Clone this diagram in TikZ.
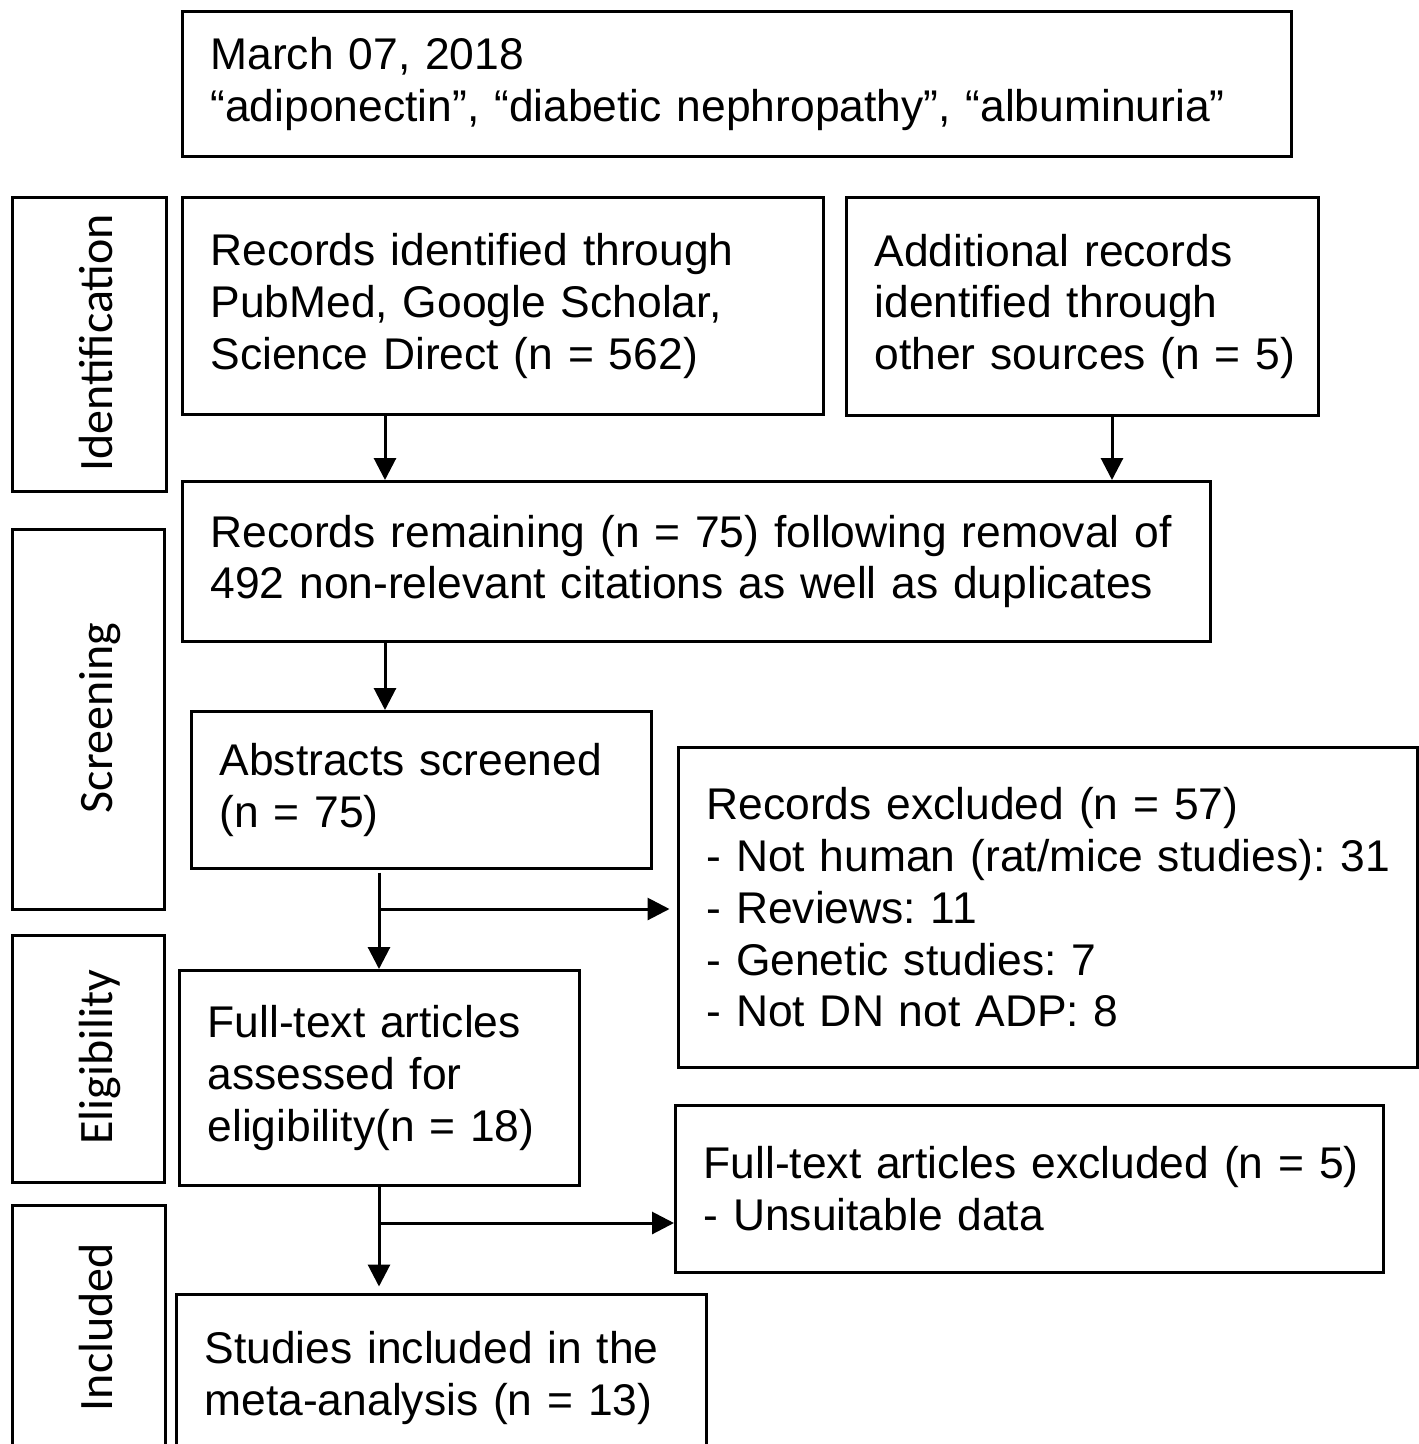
\documentclass[tikz,border=0pt]{standalone}
\usepackage{fontspec}
\setmainfont[WordSpace=0.85]{Liberation Sans}
\newfontfamily\sidefont{Carlito}
\usetikzlibrary{arrows.meta}
\frenchspacing
\begin{document}
\begin{tikzpicture}[x=1pt,y=-1pt,
  box/.style={draw, line width=3pt, anchor=north west, inner xsep=28pt, inner ysep=0pt,
    align=left, font=\frenchspacing\fontsize{44.4}{51.8}\selectfont},
  sidebox/.style={draw, line width=3pt, anchor=north west, inner sep=0pt},
  sidelabel/.style={rotate=90, anchor=base, inner sep=0pt, font=\sidefont\fontsize{48}{56}\selectfont},
  arr/.style={line width=3pt, -{Triangle[length=22pt,width=22pt]}}]
\useasboundingbox (0,0) rectangle (1419,1444);
\clip (0,0) rectangle (1419,1444);

% main boxes
\node[box, minimum width=1109pt, minimum height=145pt, text width=1053pt] (top) at (181,10)
  {\mbox{March 07, 2018}\\\mbox{“adiponectin”, “diabetic nephropathy”, “albuminuria”}};
\node[box, minimum width=641pt, minimum height=217pt, text width=585pt] (rid) at (181,196)
  {\mbox{Records identified through}\\\mbox{PubMed, Google Scholar,}\\\mbox{Science Direct (n = 562)}};
\node[box, minimum width=472pt, minimum height=218pt, text width=416pt] (add) at (845,196)
  {\mbox{Additional records}\\\mbox{identified through}\\\mbox{other sources (n = 5)}};
\node[box, minimum width=1028pt, minimum height=160pt, text width=972pt] (rem) at (181,480)
  {\mbox{Records remaining (n = 75) following removal of}\\\mbox{492 non-relevant citations as well as duplicates}};
\node[box, minimum width=460pt, minimum height=157pt, text width=404pt] (abs) at (190,710)
  {\mbox{Abstracts screened}\\\mbox{(n = 75)}};
\node[box, minimum width=739pt, minimum height=320pt, text width=683pt] (rex) at (677,746)
  {\mbox{Records excluded (n = 57)}\\\mbox{- Not human (rat/mice studies): 31}\\\mbox{- Reviews: 11}\\\mbox{- Genetic studies: 7}\\\mbox{- Not DN not ADP: 8}};
\node[box, minimum width=400pt, minimum height=215pt, text width=344pt] (fta) at (178,969)
  {\mbox{Full-text articles}\\\mbox{assessed for}\\\mbox{eligibility(n = 18)}};
\node[box, minimum width=708pt, minimum height=167pt, text width=652pt] (fex) at (674,1104)
  {\mbox{Full-text articles excluded (n = 5)}\\\mbox{- Unsuitable data}};
\node[box, minimum width=530pt, minimum height=167pt, text width=474pt] (stu) at (175,1293)
  {\mbox{Studies included in the}\\\mbox{meta-analysis (n = 13)}};

% side boxes
\node[sidebox, minimum width=154pt, minimum height=294pt] (idl) at (11,196) {};
\node[sidebox, minimum width=152pt, minimum height=380pt] (scl) at (11,528) {};
\node[sidebox, minimum width=152pt, minimum height=247pt] (ell) at (11,934) {};
\node[sidebox, minimum width=153pt, minimum height=256pt] (inl) at (11,1204) {};
\node[sidelabel] (idt) at (112,343) {Identification};
\node[sidelabel] (sct) at (112,718) {Screening};
\node[sidelabel] (elt) at (112,1057) {Eligibility};
\node[sidelabel] (inc) at (112,1327) {Included};

% connectors
\coordinate (c1) at (385,0);
\coordinate (c2) at (1112,0);
\coordinate (j1) at (379,909);
\coordinate (j2) at (379,1223);
\draw[arr] (rid.south -| c1) -- (rem.north -| c1);
\draw[arr] (add.south -| c2) -- (rem.north -| c2);
\draw[arr] (rem.south -| c1) -- (abs.north -| c1);
\draw[arr, shorten <=2.5pt] (abs.south -| j1) -- (fta.north -| j1);
\draw[arr, shorten >=7.5pt] (j1) -- (rex.west |- j1);
\draw[arr, shorten >=6.5pt] (fta.south -| j2) -- (stu.north -| j2);
\draw[arr] (j2) -- (fex.west |- j2);
\end{tikzpicture}
\end{document}
